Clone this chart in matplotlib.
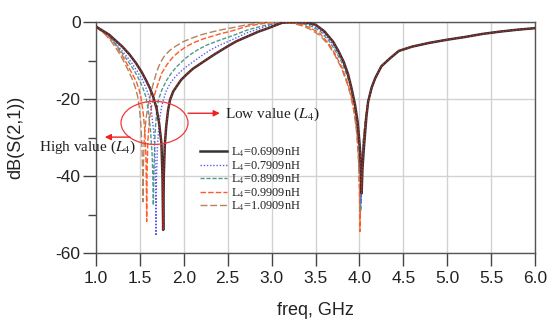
import matplotlib
matplotlib.use('Agg')
import matplotlib.pyplot as plt
import matplotlib.patches as mpatches

plt.rcParams['font.family'] = ['Liberation Sans', 'DejaVu Sans']
plt.rcParams['mathtext.fontset'] = 'stix'
plt.rcParams['axes.unicode_minus'] = False

# L4 の値ごとの S21 (freq GHz, dB) - 図から読み取り
labels = ['L$_4$=0.6909nH', 'L$_4$=0.7909nH', 'L$_4$=0.8909nH',
          'L$_4$=0.9909nH', 'L$_4$=1.0909nH']

freq_06909 = [1.00, 1.15, 1.30, 1.38, 1.456, 1.52, 1.569, 1.61, 1.65, 1.69,
              1.72, 1.745, 1.757, 1.765, 1.772, 1.783, 1.80, 1.82, 1.843, 1.88,
              1.919, 1.97, 2.033, 2.10, 2.185, 2.27, 2.35, 2.50, 2.60, 2.72,
              2.85, 2.95, 3.05, 3.12, 3.20, 3.30, 3.40, 3.50, 3.60, 3.70,
              3.76, 3.82, 3.87, 3.91, 3.95, 3.98, 4.005, 4.018, 4.025, 4.035,
              4.05, 4.064, 4.08, 4.10]
db_06909 = [-1.2, -3.3, -6.4, -8.4, -10.7, -13.0, -15.1, -17.0, -19.3, -22.5,
            -26.5, -31.5, -40.0, -54.0, -40.0, -32.0, -27.0, -23.0, -20.2, -18.0,
            -16.7, -15.0, -13.6, -12.2, -10.9, -9.6, -8.4, -6.3, -5.0, -3.8,
            -2.5, -1.7, -0.8, -0.2, -0.05, -0.05, -0.15, -0.7, -2.4, -5.1,
            -7.5, -10.3, -13.5, -17.2, -21.5, -26.0, -32.5, -38.0, -44.5, -38.0,
            -33.0, -29.0, -24.5, -20.6]

freq_07909 = [1.00, 1.15, 1.32, 1.40, 1.47, 1.53, 1.57, 1.607, 1.63, 1.655,
              1.67, 1.678, 1.683, 1.688, 1.70, 1.72, 1.745, 1.767, 1.80, 1.843,
              1.90, 1.957, 2.03, 2.108, 2.20, 2.30, 2.41, 2.55, 2.72, 2.90,
              3.05, 3.15, 3.25, 3.35, 3.45, 3.55, 3.65, 3.72, 3.80, 3.86,
              3.90, 3.94, 3.97, 4.00, 4.012, 4.02, 4.03, 4.045, 4.06, 4.08,
              4.10]
db_07909 = [-1.2, -3.5, -8.1, -10.4, -12.8, -15.1, -17.2, -19.5, -23.0, -28.0,
            -33.0, -41.0, -55.5, -41.0, -32.0, -26.0, -22.2, -20.2, -17.9, -16.0,
            -14.3, -13.0, -11.6, -10.3, -8.8, -7.3, -6.0, -4.6, -2.8, -1.4,
            -0.5, -0.15, -0.05, -0.25, -0.8, -1.9, -4.3, -6.6, -9.9, -13.4,
            -16.4, -20.4, -25.0, -32.0, -38.0, -47.0, -37.0, -31.5, -28.0, -24.0,
            -20.6]

freq_08909 = [1.00, 1.15, 1.30, 1.38, 1.44, 1.494, 1.535, 1.569, 1.595, 1.62,
              1.638, 1.647, 1.653, 1.66, 1.672, 1.69, 1.71, 1.75, 1.805, 1.86,
              1.919, 2.00, 2.07, 2.16, 2.26, 2.41, 2.55, 2.72, 2.90, 3.05,
              3.15, 3.25, 3.35, 3.45, 3.55, 3.65, 3.72, 3.80, 3.86, 3.90,
              3.94, 3.97, 3.995, 4.008, 4.015, 4.025, 4.04, 4.06, 4.08, 4.10]
db_08909 = [-1.2, -3.6, -8.1, -10.7, -12.8, -15.1, -17.2, -19.5, -23.0, -28.0,
            -34.0, -40.0, -47.6, -38.0, -29.0, -23.5, -20.3, -17.6, -15.1, -13.2,
            -11.6, -9.8, -8.5, -7.2, -6.0, -4.7, -3.6, -2.1, -1.0, -0.35,
            -0.1, -0.05, -0.4, -1.1, -2.3, -4.8, -7.2, -10.5, -14.0, -17.0,
            -21.0, -26.0, -33.0, -40.0, -49.0, -38.0, -32.0, -27.5, -23.5, -20.6]

freq_09909 = [1.00, 1.10, 1.20, 1.285, 1.36, 1.42, 1.456, 1.49, 1.51, 1.535,
              1.555, 1.567, 1.573, 1.577, 1.581, 1.59, 1.61, 1.635, 1.672, 1.71,
              1.748, 1.81, 1.88, 1.95, 2.033, 2.12, 2.22, 2.41, 2.55, 2.72,
              2.90, 3.05, 3.15, 3.25, 3.35, 3.45, 3.55, 3.65, 3.72, 3.80,
              3.86, 3.90, 3.94, 3.97, 3.99, 4.00, 4.006, 4.015, 4.03, 4.05,
              4.07, 4.10]
db_09909 = [-1.3, -3.0, -5.2, -8.1, -11.2, -13.8, -15.3, -17.5, -19.4, -23.0,
            -28.0, -34.0, -41.0, -51.8, -40.0, -31.0, -25.0, -21.5, -18.5, -15.8,
            -13.3, -11.0, -9.0, -7.6, -6.3, -5.3, -4.4, -3.1, -2.3, -1.1,
            -0.4, -0.1, -0.05, -0.2, -0.7, -1.6, -3.0, -5.6, -8.2, -11.8,
            -15.5, -18.5, -23.0, -28.0, -35.0, -43.0, -54.4, -42.0, -35.0, -29.5,
            -25.0, -20.6]

freq_10909 = [1.00, 1.10, 1.18, 1.265, 1.33, 1.38, 1.418, 1.45, 1.475, 1.495,
              1.512, 1.524, 1.531, 1.535, 1.54, 1.55, 1.57, 1.595, 1.62, 1.653,
              1.69, 1.729, 1.78, 1.843, 1.92, 1.994, 2.09, 2.185, 2.30, 2.41,
              2.55, 2.72, 2.90, 3.05, 3.15, 3.25, 3.35, 3.45, 3.55, 3.65,
              3.72, 3.80, 3.86, 3.90, 3.94, 3.97, 3.99, 4.003, 4.01, 4.02,
              4.035, 4.05, 4.07, 4.10]
db_10909 = [-1.3, -3.1, -5.2, -8.1, -10.8, -13.2, -15.1, -17.2, -19.4, -22.5,
            -27.0, -33.0, -39.0, -46.7, -37.0, -30.0, -25.0, -21.5, -19.0, -15.9,
            -13.0, -10.7, -8.8, -7.3, -6.1, -5.1, -4.2, -3.4, -2.7, -2.1,
            -1.5, -0.7, -0.2, -0.05, -0.1, -0.4, -1.0, -2.0, -3.5, -6.0,
            -8.6, -12.2, -16.0, -19.0, -23.5, -29.0, -36.0, -44.0, -51.0, -40.0,
            -34.0, -29.5, -25.0, -20.6]

# 4.1 GHz 以降は全カーブほぼ共通
tail_freq = [4.14, 4.18, 4.25, 4.35, 4.45, 4.60, 4.80, 5.00, 5.20, 5.40, 5.60, 5.80, 6.00]
tail_db = [-17.0, -14.6, -11.5, -9.4, -7.5, -6.4, -5.4, -4.6, -3.9, -3.1, -2.5, -2.0, -1.6]

freqs = [freq_06909, freq_07909, freq_08909, freq_09909, freq_10909]
dbs = [db_06909, db_07909, db_08909, db_09909, db_10909]

colors = ['#333333', '#5a5af0', '#4f9a8c', '#ff5a28', '#b5825a']
styles = ['-', (0, (1, 1.3)), (0, (3, 1.3)), (0, (4, 1.5)), (0, (5, 2))]
widths = [1.8, 1.0, 1.0, 1.0, 1.0]

fig = plt.figure(figsize=(5.49, 3.27), dpi=100)
ax = fig.add_axes([0.1749, 0.2263, 0.7996, 0.7064])

# 背景から順に描画 (黒線は最前面)
handles = [None] * 5
for i in [4, 3, 2, 1, 0]:
    handles[i], = ax.plot(freqs[i] + tail_freq, dbs[i] + tail_db, color=colors[i],
                          linestyle=styles[i], lw=widths[i], label=labels[i],
                          zorder=3 + (4 - i))
# 黒線上の赤い点線
ax.plot(freq_06909 + tail_freq, db_06909 + tail_db, color='#e02020',
        linestyle=(0, (1.5, 1.5)), lw=0.8, zorder=9)

ax.set_xlim(1.0, 6.0)
ax.set_ylim(-60, 0)
xt = [1.0 + 0.5 * k for k in range(11)]
ax.set_xticks(xt)
ax.set_xticklabels(['%.1f' % v for v in xt])
ax.set_yticks([-60, -40, -20, 0])
ax.set_yticks([-50, -30, -10], minor=True)
ax.grid(True, which='major', color='#d2d2d2', lw=1.0)
ax.tick_params(which='major', direction='out', length=9.5, width=1.0,
               color='#444444', labelsize=12.5, labelcolor='#222222')
ax.tick_params(axis='y', which='major', pad=1.5)
ax.tick_params(axis='x', which='major', pad=3.5)
ax.tick_params(which='minor', direction='out', length=5.5, width=1.0, color='#444444')
for s in ax.spines.values():
    s.set_color('#555555')
    s.set_linewidth(1.0)

ax.set_xlabel('freq, GHz', fontsize=13, color='#222222')
ax.set_ylabel('dB(S(2,1))', fontsize=13, color='#222222')
ax.xaxis.set_label_coords(0.5, -0.212)
ax.yaxis.set_label_coords(-0.164, 0.5)

# 赤い楕円と矢印
ax.add_patch(mpatches.Ellipse((1.666, -26.2), 0.763, 11.2, fill=False,
                              edgecolor='#ee3a3a', lw=0.9, zorder=10))
ax.annotate('', xy=(2.41, -23.7), xytext=(2.048, -23.7),
            arrowprops=dict(arrowstyle='-|>', color='#ee2222', lw=1.0,
                            mutation_scale=9, shrinkA=0, shrinkB=0), zorder=10)
ax.annotate('', xy=(1.10, -29.9), xytext=(1.387, -29.9),
            arrowprops=dict(arrowstyle='-|>', color='#ee2222', lw=1.0,
                            mutation_scale=9, shrinkA=0, shrinkB=0), zorder=10)
ax.text(2.47, -24.0, 'Low value ($L_4$)', family='Liberation Serif',
        fontsize=11, ha='left', va='center', color='#222222')
ax.text(0.351, -32.5, 'High value ($L_4$)', family='Liberation Serif',
        fontsize=11, ha='left', va='center', color='#222222', clip_on=False)

ax.legend(handles=handles, loc='upper left', bbox_to_anchor=(0.237, 0.4645),
          frameon=False, prop={'family': 'Liberation Serif', 'size': 8.8},
          borderpad=0, borderaxespad=0, handlelength=2.2, handletextpad=0.3,
          labelspacing=0.0, labelcolor='#222222')

fig.savefig('out.png', dpi=100)
